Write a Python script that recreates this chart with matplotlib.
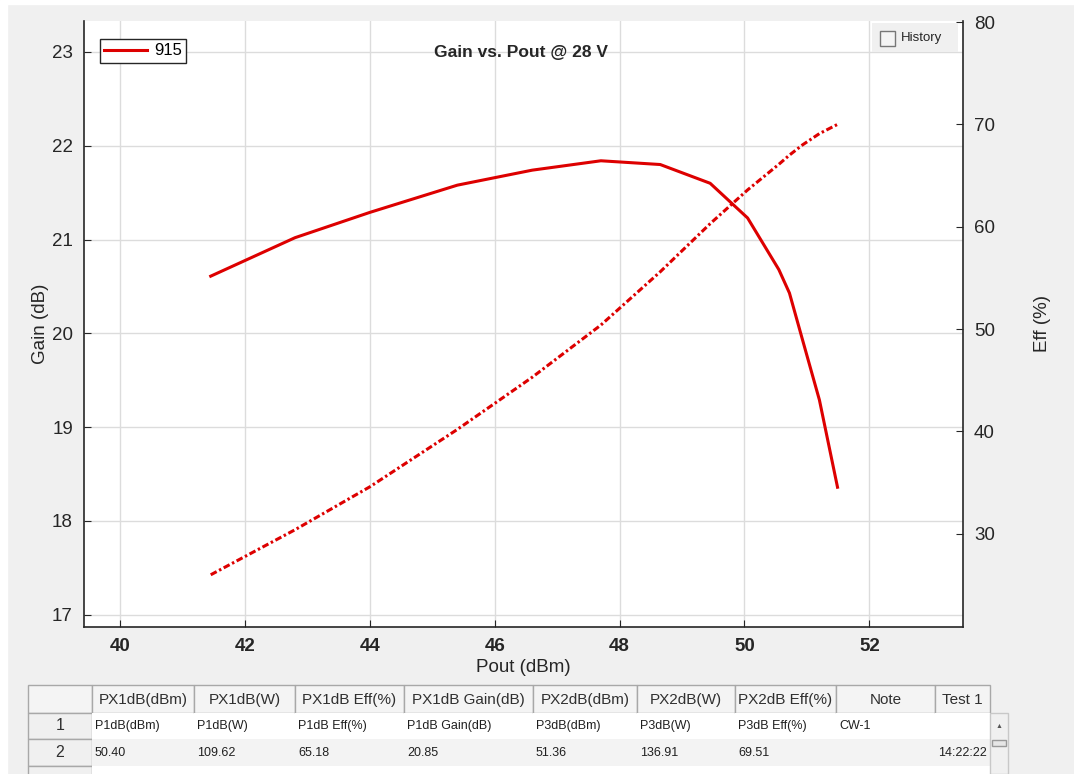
import matplotlib.pyplot as plt
from matplotlib.patches import Rectangle

plt.rcParams['font.family'] = ['Liberation Sans', 'DejaVu Sans']

pout = [41.45, 42.8, 44.0, 45.4, 46.6, 47.7, 48.65, 49.45, 50.05, 50.55, 50.72, 50.93, 51.2, 51.49]
gain = [20.61, 21.02, 21.29, 21.58, 21.74, 21.84, 21.80, 21.60, 21.23, 20.68, 20.43, 19.93, 19.29, 18.36]
eff = [26.0, 30.4, 34.6, 40.2, 45.3, 50.4, 55.6, 60.3, 63.6, 66.1, 67.0, 68.0, 69.1, 70.0]

x_ticks = [40, 42, 44, 46, 48, 50, 52]
gain_ticks = [17, 18, 19, 20, 21, 22, 23]
eff_ticks = [30, 40, 50, 60, 70, 80]

# summary table under the plot
col_names = ["", "PX1dB(dBm)", "PX1dB(W)", "PX1dB Eff(%)", "PX1dB Gain(dB)",
             "PX2dB(dBm)", "PX2dB(W)", "PX2dB Eff(%)", "Note", "Test 1"]
row1 = ["1", "P1dB(dBm)", "P1dB(W)", "P1dB Eff(%)", "P1dB Gain(dB)",
        "P3dB(dBm)", "P3dB(W)", "P3dB Eff(%)", "CW-1", ""]
row2 = ["2", "50.40", "109.62", "65.18", "20.85", "51.36", "136.91", "69.51", "", "14:22:22"]

RED = '#dd0000'
W, H = 1074, 774

fig = plt.figure(figsize=(W / 100, H / 100), dpi=100, facecolor='#f0f0f0')

# background layer in pixel coords (screen frame + table)
bg = fig.add_axes([0, 0, 1, 1], zorder=-1)
bg.set_xlim(0, W)
bg.set_ylim(H, 0)
bg.axis('off')
bg.add_patch(Rectangle((0, 0), W, 4, color='white'))
bg.add_patch(Rectangle((0, 0), 7, H, color='white'))

ax = fig.add_axes([84 / W, 1 - 627 / H, 879 / W, 606 / H])
ax.plot(pout, gain, color=RED, lw=2.2, label='915', solid_joinstyle='round')
ax.set_xlim(39.42, 53.5)
ax.set_ylim(16.87, 23.33)
ax.set_xticks(x_ticks)
ax.set_yticks(gain_ticks)
ax.grid(True, color='#dcdcdc', lw=1)
ax.set_axisbelow(True)
ax.tick_params(direction='in', length=5, labelsize=13.5, colors='#262626', pad=8)
ax.spines['top'].set_visible(False)
ax.spines['right'].set_visible(False)
for s in ['left', 'bottom']:
    ax.spines[s].set_color('#262626')
    ax.spines[s].set_linewidth(1.2)
ax.set_xlabel('Pout (dBm)', fontsize=13.5, color='#262626', labelpad=3)
ax.set_ylabel('Gain (dB)', fontsize=13.5, color='#262626', labelpad=2)
for t in ax.get_xticklabels():
    t.set_fontweight('bold')
ax.text(0.497, 0.948, 'Gain vs. Pout @ 28 V', transform=ax.transAxes, ha='center', va='center',
        fontsize=12.5, fontweight='bold', color='#262626')
leg = ax.legend(loc='upper left', bbox_to_anchor=(0.018, 0.97), fontsize=12, handlelength=2.6,
                borderpad=0.25, handletextpad=0.4, fancybox=False, framealpha=1, borderaxespad=0)
leg.get_frame().set_edgecolor('#262626')
leg.get_frame().set_linewidth(1)

ax2 = ax.twinx()
ax2.plot(pout, eff, color=RED, lw=2.2, linestyle=(0, (2.2, 0.9, 0.8, 0.9)))
ax2.set_ylim(20.9, 80.1)
ax2.set_yticks(eff_ticks)
ax2.tick_params(direction='in', length=5, labelsize=13.5, colors='#262626', pad=8)
for s in ['top', 'left', 'bottom']:
    ax2.spines[s].set_visible(False)
ax2.spines['right'].set_color('#262626')
ax2.spines['right'].set_linewidth(1.2)
ax2.set_ylabel('Eff (%)', fontsize=13.5, color='#262626', labelpad=28)

# "History" check box in the top-right corner
fig.patches.append(Rectangle((872 / W, 1 - 52 / H), 86 / W, 29 / H, transform=fig.transFigure,
                             facecolor='#f0f0f0', edgecolor='none', zorder=5))
fig.patches.append(Rectangle((880 / W, 1 - 46 / H), 15 / W, 15 / H, transform=fig.transFigure,
                             facecolor='#f4f4f4', edgecolor='#777777', lw=1, zorder=6))
fig.text(901 / W, 1 - 38.5 / H, 'History', fontsize=9.5, color='#262626', va='center', zorder=7)

# table
edges = [28, 92, 194, 295, 404, 533, 637, 735, 836, 935, 990]
tops = [685, 713, 739, 766, 800]
for i in range(len(col_names)):
    x0, x1 = edges[i], edges[i + 1]
    bg.add_patch(Rectangle((x0, tops[0]), x1 - x0, tops[1] - tops[0],
                           facecolor='#f4f4f4', edgecolor='#a8a8a8', lw=1))
    if col_names[i]:
        bg.text((x0 + x1) / 2, (tops[0] + tops[1]) / 2 + 1, col_names[i], ha='center', va='center',
                fontsize=11, color='#303030', clip_on=True)
    for r, row in enumerate([row1, row2, ["", "", "", "", "", "", "", "", "", ""]]):
        y0, y1 = tops[r + 1], tops[r + 2]
        if i == 0:
            bg.add_patch(Rectangle((x0, y0), x1 - x0, y1 - y0, facecolor='#f0f0f0',
                                   edgecolor='#a8a8a8', lw=1))
            bg.text((x0 + x1) / 2, (y0 + y1) / 2, row[i], ha='center', va='center',
                    fontsize=11.5, color='#303030')
        else:
            fc = 'white' if r % 2 == 0 else '#f3f3f3'
            bg.add_patch(Rectangle((x0, y0), x1 - x0, y1 - y0, facecolor=fc, edgecolor='none'))
            if row[i]:
                bg.text(x0 + 3, (y0 + y1) / 2, row[i], ha='left', va='center',
                        fontsize=9, color='#202020')
# scrollbar
bg.add_patch(Rectangle((990, 713), 18, 61, facecolor='#f0f0f0', edgecolor='#c8c8c8', lw=1))
bg.text(999, 727, '\u25b2', ha='center', va='center', fontsize=5, color='#555555')
bg.add_patch(Rectangle((992, 740), 14, 6, facecolor='#e6e6e6', edgecolor='#999999', lw=1))

fig.savefig('out.png', dpi=100, facecolor=fig.get_facecolor())
